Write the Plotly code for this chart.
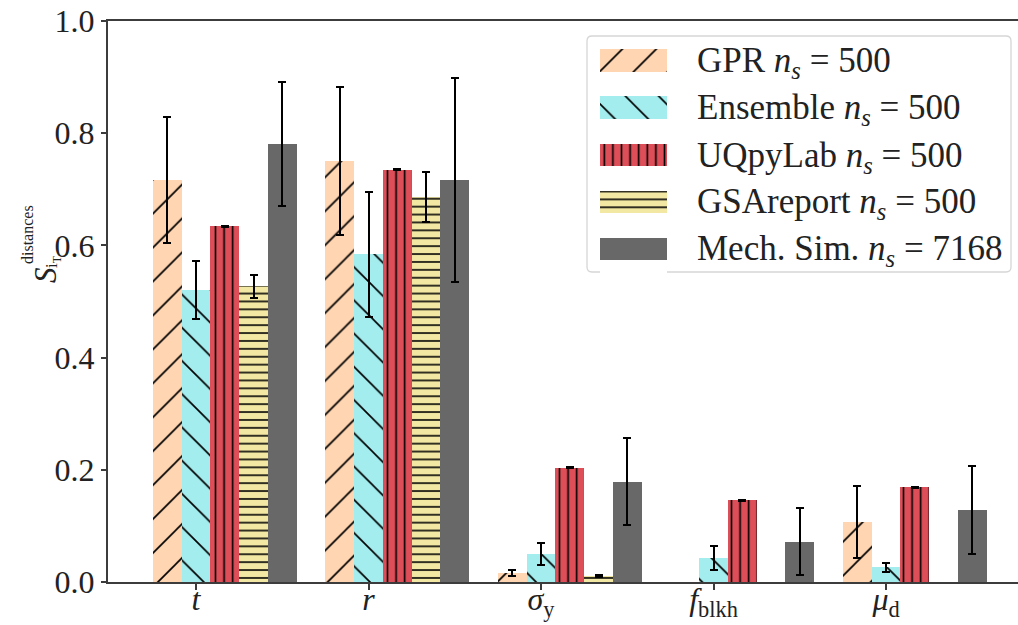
import plotly.graph_objects as go

# ---------------- data ----------------
categories = ["t", "r", "sigma_y", "f_blkh", "mu_d"]
tick_labels = ["<i>t</i>", "<i>r</i>", "<i>σ</i><sub>y</sub>",
               "<i>f</i><sub>blkh</sub>", "<i>μ</i><sub>d</sub>"]

series_names = ["GPR", "Ensemble", "UQpyLab", "GSAreport", "Mech. Sim."]
series_ns = ["500", "500", "500", "500", "7168"]

gpr_mean = [0.717, 0.750, 0.016, 0.0, 0.107]
gpr_err = [0.112, 0.132, 0.005, 0.0, 0.064]
ens_mean = [0.521, 0.584, 0.050, 0.043, 0.026]
ens_err = [0.052, 0.111, 0.020, 0.021, 0.008]
uq_mean = [0.634, 0.735, 0.204, 0.146, 0.169]
uq_err = [0.001, 0.001, 0.001, 0.001, 0.001]
gsa_mean = [0.527, 0.686, 0.011, 0.0, 0.0]
gsa_err = [0.020, 0.044, 0.002, 0.0, 0.0]
mech_mean = [0.781, 0.717, 0.179, 0.072, 0.128]
mech_err = [0.111, 0.182, 0.078, 0.060, 0.078]

y_ticks = [0.0, 0.2, 0.4, 0.6, 0.8, 1.0]

means = [gpr_mean, ens_mean, uq_mean, gsa_mean, mech_mean]
errs = [gpr_err, ens_err, uq_err, gsa_err, mech_err]

# ---------------- styles ----------------
colors = ["#FFD5B2", "#A3EDEE", "#DE4E59", "#F2E8A3", "#686868"]
patterns = [
    dict(shape="/", size=24, solidity=0.07),
    dict(shape="\\", size=23.5, solidity=0.07),
    dict(shape="|", size=8.6, solidity=0.19),
    dict(shape="-", size=7.9, solidity=0.2),
    None,
]
FONT = "Liberation Serif"
TXT = "#222222"
AX = "#3c3c3c"

W, H = 1018, 625
ML, MR, MT, MB = 108, 0, 21, 43
PW, PH = W - ML - MR, H - MT - MB
unit = 172.5          # px per category
x0_px = 196           # px of first category
bw = 1 / 6            # bar width


def px2paper_x(px):
    return (px - ML) / PW


def px2paper_y(py):
    return 1 - (py - MT) / PH


def marker_for(k):
    mk = dict(color=colors[k], line=dict(width=0))
    if patterns[k] is not None:
        mk["pattern"] = dict(shape=patterns[k]["shape"], size=patterns[k]["size"],
                             solidity=patterns[k]["solidity"], fgcolor="black",
                             bgcolor=colors[k], fgopacity=1, fillmode="replace")
    return mk


fig = go.Figure()

for k in range(5):
    y_draw = [m if m > 0 else None for m in means[k]]
    err_arr = [e if m > 0 else None for m, e in zip(means[k], errs[k])]
    fig.add_trace(go.Bar(
        x=categories, y=y_draw, width=bw, offset=-1.5 * bw + k * bw,
        marker=marker_for(k), name=series_names[k], showlegend=False,
        error_y=dict(type="data", array=err_arr, visible=True,
                     color="black", thickness=2, width=4),
    ))

# ---------------- hand-drawn legend (large patches like matplotlib) ----------------
row_px = [61, 108.5, 156, 203, 249.5]
row_step = 47.1
leg_top = row_px[0] - row_step / 2
leg_bot = row_px[-1] + row_step / 2
for k in range(5):
    fig.add_trace(go.Bar(
        x=[1], y=[k + 1], orientation="h", width=22.5 / row_step,
        marker=marker_for(k), xaxis="x2", yaxis="y2", showlegend=False, hoverinfo="skip",
    ))

# legend box
bx0, bx1, by0, by1 = px2paper_x(587), px2paper_x(1011), px2paper_y(36), px2paper_y(272)
rx, ry = 5 / PW, 5 / PH
path = (f"M{bx0+rx},{by0} L{bx1-rx},{by0} Q{bx1},{by0} {bx1},{by0-ry} "
        f"L{bx1},{by1+ry} Q{bx1},{by1} {bx1-rx},{by1} "
        f"L{bx0+rx},{by1} Q{bx0},{by1} {bx0},{by1+ry} "
        f"L{bx0},{by0-ry} Q{bx0},{by0} {bx0+rx},{by0} Z")
fig.add_shape(type="path", path=path, xref="paper", yref="paper",
              fillcolor="rgba(255,255,255,0.8)", line=dict(color="#d6d6d6", width=1.3),
              layer="below")

for k in range(5):
    fig.add_annotation(
        x=px2paper_x(695), y=px2paper_y(row_px[k] + 1), xref="paper", yref="paper",
        xanchor="left", yanchor="middle", showarrow=False,
        text=f"{series_names[k]} <i>n</i><sub><i>s</i></sub> = {series_ns[k]}",
        font=dict(family=FONT, size=35, color=TXT),
    )

# y-axis label  S_{i_T}^{distances}
fig.add_annotation(x=px2paper_x(45), y=px2paper_y(275), xref="paper", yref="paper",
                   text="<i>S</i>", textangle=-90, showarrow=False,
                   xanchor="center", yanchor="middle",
                   font=dict(family=FONT, size=31, color=TXT))
fig.add_annotation(x=px2paper_x(27), y=px2paper_y(235), xref="paper", yref="paper",
                   text="distances", textangle=-90, showarrow=False,
                   xanchor="center", yanchor="middle",
                   font=dict(family=FONT, size=16, color=TXT))
fig.add_annotation(x=px2paper_x(53), y=px2paper_y(262), xref="paper", yref="paper",
                   text="i<sub>T</sub>", textangle=-90, showarrow=False,
                   xanchor="center", yanchor="middle",
                   font=dict(family=FONT, size=17, color=TXT))

x_lo = (ML - x0_px) / unit
x_hi = x_lo + PW / unit

fig.update_layout(
    width=W, height=H,
    margin=dict(l=ML, r=MR, t=MT, b=MB, pad=0, autoexpand=False),
    paper_bgcolor="white", plot_bgcolor="white",
    barmode="overlay", bargap=0,
    showlegend=False,
    font=dict(family=FONT, color=TXT),
    xaxis=dict(
        type="category", categoryorder="array", categoryarray=categories,
        range=[x_lo, x_hi], tickmode="array", tickvals=categories, ticktext=tick_labels,
        showline=True, linecolor=AX, linewidth=2, mirror=True,
        ticks="outside", ticklen=6, tickwidth=1.5, tickcolor=AX,
        tickfont=dict(family=FONT, size=32, color=TXT), ticklabelstandoff=-18,
        showgrid=False, zeroline=False, fixedrange=True, automargin=False,
    ),
    yaxis=dict(
        range=[0, 1], tickmode="array", tickvals=y_ticks,
        ticktext=[f"{v:.1f}" for v in y_ticks],
        showline=True, linecolor=AX, linewidth=2,
        ticks="outside", ticklen=5, tickwidth=1.5, tickcolor=AX,
        tickfont=dict(family=FONT, size=32, color=TXT),
        showgrid=False, zeroline=False, fixedrange=True, automargin=False,
    ),
    xaxis2=dict(domain=[px2paper_x(600), px2paper_x(667)], range=[0, 1],
                anchor="y2", visible=False, fixedrange=True),
    yaxis2=dict(domain=[px2paper_y(leg_bot), px2paper_y(leg_top)],
                range=[5.5, 0.5], anchor="x2", visible=False, fixedrange=True),
)

fig.write_html("out.html")
